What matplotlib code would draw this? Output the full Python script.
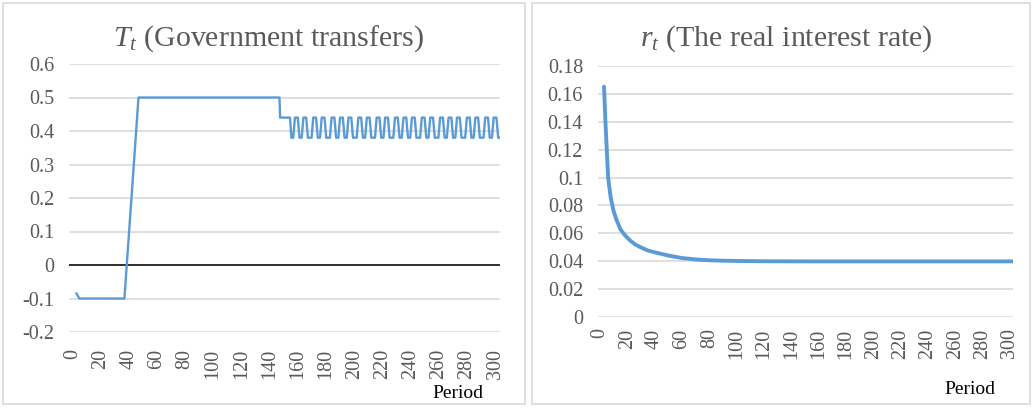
import matplotlib
matplotlib.use("Agg")
import matplotlib.pyplot as plt
from matplotlib.patches import Rectangle

# ---- data -------------------------------------------------------------
# Government transfers: knots of the piecewise path before the oscillation
T_knot_periods = [3, 5, 37, 47, 147, 147.5, 154.5, 155.5]
T_knot_values = [-0.085, -0.10, -0.10, 0.50, 0.50, 0.44, 0.44, 0.38]
# periods at which the transfer cycle peaks, and its two levels
T_peak_periods = [159, 165, 172, 178, 185, 191, 197, 204, 210, 217, 223, 230,
                  236, 242, 249, 255, 262, 268, 274, 281, 287, 294, 300]
T_high, T_low = 0.44, 0.38
T_last_period = 303

# Real interest rate
r_periods = [3, 4, 5, 6, 7, 8, 10, 12, 15, 18, 22, 26, 30, 35, 40, 50, 60,
             70, 80, 90, 100, 120, 150, 200, 250, 302]
r_values = [0.165, 0.140, 0.120, 0.100, 0.092, 0.085, 0.076, 0.070, 0.063,
            0.059, 0.055, 0.052, 0.050, 0.0478, 0.0465, 0.0442, 0.0424,
            0.0414, 0.0408, 0.0405, 0.0403, 0.0401, 0.0400, 0.0400, 0.0400,
            0.0400]

x_ticks = list(range(0, 301, 20))
T_yticks = [-0.2, -0.1, 0, 0.1, 0.2, 0.3, 0.4, 0.5, 0.6]
T_ylabels = ["-0.2", "-0.1", "0", "0.1", "0.2", "0.3", "0.4", "0.5", "0.6"]
r_yticks = [0, 0.02, 0.04, 0.06, 0.08, 0.10, 0.12, 0.14, 0.16, 0.18]
r_ylabels = ["0", "0.02", "0.04", "0.06", "0.08", "0.1", "0.12", "0.14",
             "0.16", "0.18"]

# ---- style ------------------------------------------------------------
plt.rcParams["font.family"] = ["Liberation Serif", "DejaVu Serif"]
plt.rcParams["mathtext.fontset"] = "custom"
plt.rcParams["mathtext.rm"] = "Liberation Serif"
plt.rcParams["mathtext.it"] = "Liberation Serif:italic"

LINE = "#5B9BD5"
GRID = "#D9D9D9"
TXT = "#595959"
W, H = 1034, 409

fig = plt.figure(figsize=(W / 100, H / 100), dpi=100)
fig.patch.set_facecolor("white")


def px_axes(x0, x1, y_top, y_bot):
    return fig.add_axes([x0 / W, 1 - y_bot / H, (x1 - x0) / W, (y_bot - y_top) / H])


def panel_frame(x0, y0, x1, y1):
    fig.patches.append(Rectangle((x0 / W, 1 - y1 / H), (x1 - x0) / W, (y1 - y0) / H,
                                 transform=fig.transFigure, fill=False,
                                 edgecolor=GRID, linewidth=1.2))


def style_axes(ax, yticks, ylabels, ypad, xpad):
    for s in ax.spines.values():
        s.set_visible(False)
    ax.set_yticks(yticks)
    ax.set_yticklabels(ylabels)
    ax.set_xticks(x_ticks)
    ax.set_xticklabels([str(v) for v in x_ticks], rotation=90)
    ax.tick_params(axis="both", length=0, labelsize=14.5, labelcolor=TXT)
    ax.tick_params(axis="y", pad=ypad)
    ax.tick_params(axis="x", pad=xpad)
    ax.grid(axis="y", color=GRID, linewidth=1.2)
    ax.set_axisbelow(True)


panel_frame(3, 3, 525, 404)
panel_frame(532, 3, 1030, 404)

# ---- left panel: transfers --------------------------------------------
axL = px_axes(69.3, 500, 64, 332)
tt = list(T_knot_periods)
tv = list(T_knot_values)
for p in T_peak_periods:
    tt += [p - 2.2, p - 1.0, p + 1.0, p + 2.2]
    tv += [T_low, T_high, T_high, T_low]
tt.append(T_last_period)
tv.append(T_low)
axL.plot(tt, tv, color=LINE, linewidth=1.7, solid_joinstyle="round")
axL.axhline(0, color="black", linewidth=1.1, zorder=1.5)
axL.set_xlim(-2.1, 303.5)
axL.set_ylim(-0.2, 0.6)
style_axes(axL, T_yticks, T_ylabels, ypad=11, xpad=12)

fig.text(268 / W, 1 - 39 / H, r"$T_t$ (Government transfers)", fontsize=21.5,
         color=TXT, ha="center", va="center")
fig.text(458 / W, 1 - 393 / H, "Period", fontsize=14, color="black",
         ha="center", va="center")

# ---- right panel: interest rate ---------------------------------------
axR = px_axes(598.3, 1012.7, 65.7, 317.3)
axR.plot(r_periods, r_values, color=LINE, linewidth=2.8, solid_capstyle="round")
axR.set_xlim(-1.2, 302)
axR.set_ylim(0, 0.18)
style_axes(axR, r_yticks, r_ylabels, ypad=11, xpad=8)

fig.text(786 / W, 1 - 39 / H, r"$r_t$ (The real interest rate)", fontsize=21.5,
         color=TXT, ha="center", va="center")
fig.text(970 / W, 1 - 390 / H, "Period", fontsize=14, color="black",
         ha="center", va="center")

fig.savefig("out.png", dpi=100, facecolor="white")
